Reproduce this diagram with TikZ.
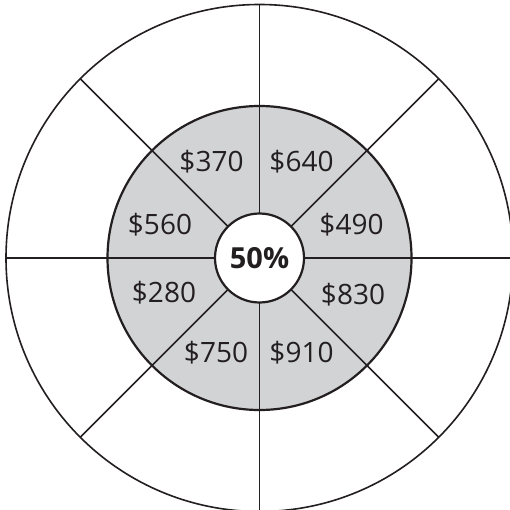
\documentclass[tikz,border=0pt]{standalone}
\usepackage{fontspec}
\setmainfont{Open Sans}
\definecolor{ringgray}{RGB}{210,211,213}
\definecolor{inkc}{RGB}{35,31,32}
\begin{document}
\begin{tikzpicture}[x=1pt,y=-1pt,
  ring/.style={circle,draw=inkc,inner sep=0pt,outer sep=0pt},
  spoke/.style={draw=inkc,line width=1.5pt},
  amt/.style={inner sep=0pt,anchor=base,font=\fontsize{28}{28}\selectfont,text=inkc}]
\useasboundingbox (0,0) rectangle (510,510);
\clip (0,0) rectangle (510,510);
\coordinate (c) at (259.5,258);
\node[ring,line width=1.6pt,fill=white,minimum size=507pt] (outer) at (c) {};
\node[ring,line width=2.2pt,fill=ringgray,minimum size=304pt] (mid) at (c) {};
\node[ring,line width=2.2pt,fill=white,minimum size=89pt,font=\fontsize{29}{29}\selectfont\bfseries,text=inkc] (inner) at (c) {50\%};
\foreach \a in {0,45,...,315}{
  \draw[spoke] (inner.\a) -- (outer.\a);
}
\node[amt] (l370) at (211.5,171.5) {\$370};
\node[amt] (l640) at (301.5,171.5) {\$640};
\node[amt] (l560) at (160,234) {\$560};
\node[amt] (l490) at (351.5,234.5) {\$490};
\node[amt] (l280) at (164,302.5) {\$280};
\node[amt] (l830) at (353,304) {\$830};
\node[amt] (l750) at (216,362) {\$750};
\node[amt] (l910) at (301.5,362) {\$910};
\end{tikzpicture}
\end{document}
